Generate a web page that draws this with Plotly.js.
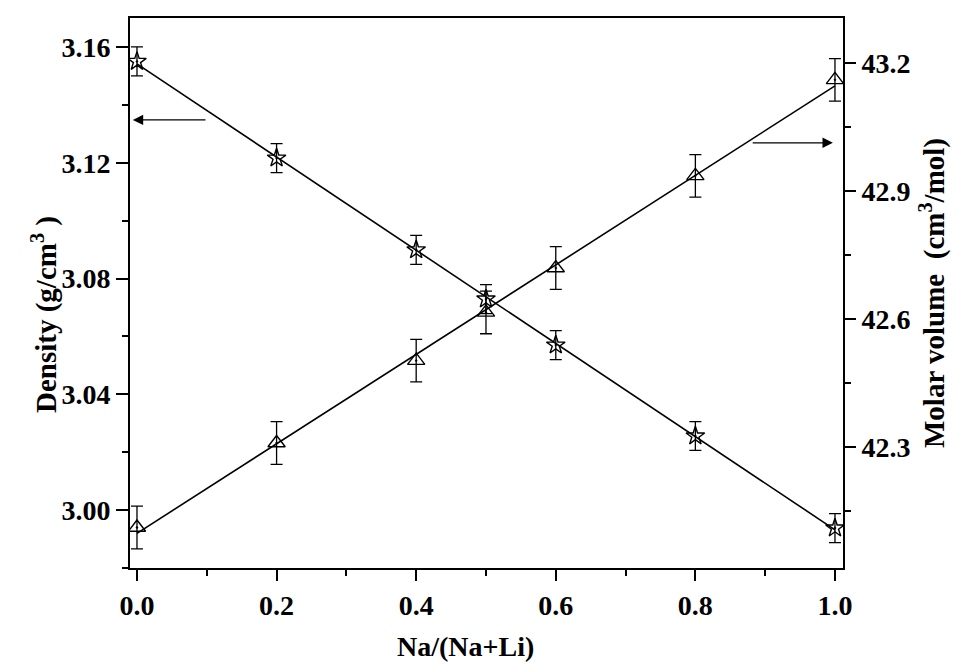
<!DOCTYPE html>
<html>
<head>
<meta charset="utf-8">
<script src="https://cdn.plot.ly/plotly-3.0.1.min.js"></script>
<style>html,body{margin:0;padding:0;background:#fff;}#chart{width:968px;height:669px;}</style>
</head>
<body>
<div id="chart"></div>
<script>
// Data
var naFraction = [0, 0.2, 0.4, 0.5, 0.6, 0.8, 1.0];
var density = [3.155, 3.1216, 3.0899, 3.0729, 3.057, 3.0256, 2.9938];
var densityErr = [0.005, 0.005, 0.005, 0.005, 0.005, 0.005, 0.005];
var molarVolume = [42.111, 42.309, 42.502, 42.615, 42.719, 42.935, 43.16];
var molarVolumeErr = [0.05, 0.05, 0.05, 0.05, 0.05, 0.05, 0.05];

var xTickVals = [0, 0.2, 0.4, 0.6, 0.8, 1.0];
var xTickText = ['0.0', '0.2', '0.4', '0.6', '0.8', '1.0'];
var yTickVals = [3.00, 3.04, 3.08, 3.12, 3.16];
var yTickText = ['3.00', '3.04', '3.08', '3.12', '3.16'];
var y2TickVals = [42.3, 42.6, 42.9, 43.2];
var y2TickText = ['42.3', '42.6', '42.9', '43.2'];

var xTitle = 'Na/(Na+Li)';
var yTitle = 'Density (g/cm<sup>3</sup> )';
var y2Title = 'Molar volume  (cm<sup>3</sup>/mol)';

function linFit(xs, ys) {
  var n = xs.length, mx = 0, my = 0;
  for (var i = 0; i < n; i++) { mx += xs[i]; my += ys[i]; }
  mx /= n; my /= n;
  var sxx = 0, sxy = 0;
  for (var j = 0; j < n; j++) { sxx += (xs[j]-mx)*(xs[j]-mx); sxy += (xs[j]-mx)*(ys[j]-my); }
  var b = sxy / sxx, a = my - b*mx;
  var x0 = Math.min.apply(null, xs), x1 = Math.max.apply(null, xs);
  return {x: [x0, x1], y: [a + b*x0, a + b*x1]};
}
var dFit = linFit(naFraction, density);
var mFit = linFit(naFraction, molarVolume);

var FONT = '"Liberation Serif", "Times New Roman", Times, serif';
var tickFont = {family: FONT, size: 28, weight: 'bold', color: '#000'};
var titleFont = {family: FONT, size: 29, weight: 'bold', color: '#000'};

var traces = [
  {x: dFit.x, y: dFit.y, mode: 'lines', line: {color: '#000', width: 1.6}, yaxis: 'y', hoverinfo: 'skip'},
  {x: mFit.x, y: mFit.y, mode: 'lines', line: {color: '#000', width: 1.6}, yaxis: 'y2', hoverinfo: 'skip'},
  {x: naFraction, y: density, mode: 'markers', yaxis: 'y',
   marker: {symbol: 'star-open-dot', size: 14, color: '#000', line: {width: 1.4, color: '#000'}},
   error_y: {type: 'data', array: densityErr, visible: true, color: '#000', thickness: 1.3, width: 6}},
  {x: naFraction, y: molarVolume, mode: 'markers', yaxis: 'y2',
   marker: {symbol: 'triangle-up-open-dot', size: 15, color: '#000', line: {width: 1.4, color: '#000'}},
   error_y: {type: 'data', array: molarVolumeErr, visible: true, color: '#000', thickness: 1.3, width: 6}}
];

var layout = {
  width: 968, height: 669,
  margin: {l: 130, r: 125, t: 18, b: 101},
  paper_bgcolor: '#fff', plot_bgcolor: '#fff',
  showlegend: false,
  font: {family: FONT, color: '#000'},
  xaxis: {
    range: [-0.01, 1.0115], showgrid: false, zeroline: false,
    showline: true, linecolor: '#000', linewidth: 2, mirror: true,
    ticks: 'outside', ticklen: 11, tickwidth: 2, tickcolor: '#000',
    tickvals: xTickVals, ticktext: xTickText, tickfont: tickFont,
    minor: {tickvals: [0.1, 0.3, 0.5, 0.7, 0.9], ticks: 'outside', ticklen: 6, tickwidth: 2, tickcolor: '#000'}
  },
  yaxis: {
    range: [2.98, 3.17], showgrid: false, zeroline: false,
    showline: true, linecolor: '#000', linewidth: 2,
    ticks: 'outside', ticklen: 12, tickwidth: 2, tickcolor: '#000',
    tickvals: yTickVals, ticktext: yTickText, tickfont: tickFont,
    minor: {tickvals: [2.98, 3.02, 3.06, 3.10, 3.14], ticks: 'outside', ticklen: 6, tickwidth: 2, tickcolor: '#000'}
  },
  yaxis2: {
    overlaying: 'y', side: 'right',
    range: [42.016, 43.305], showgrid: false, zeroline: false,
    showline: true, linecolor: '#000', linewidth: 2,
    ticks: 'outside', ticklen: 11, tickwidth: 2, tickcolor: '#000',
    tickvals: y2TickVals, ticktext: y2TickText, tickfont: tickFont,
    minor: {tickvals: [42.15, 42.45, 42.75, 43.05], ticks: 'outside', ticklen: 6, tickwidth: 2, tickcolor: '#000'},
    title: {text: y2Title, font: titleFont, standoff: 14}
  },
  annotations: [
    {xref: 'paper', yref: 'paper', x: 0.47, y: -0.1436, xanchor: 'center', yanchor: 'middle',
     text: xTitle, showarrow: false, font: {family: FONT, size: 28, weight: 'bold', color: '#000'}},
    {xref: 'paper', yref: 'paper', x: -0.1206, y: 0.46, xanchor: 'center', yanchor: 'middle', textangle: -90,
     text: yTitle, showarrow: false, font: titleFont},
    {xref: 'x', yref: 'y', axref: 'x', ayref: 'y', x: -0.006, y: 3.1348, ax: 0.1003, ay: 3.1348,
     text: '', showarrow: true, arrowhead: 2, arrowsize: 1.6, arrowwidth: 1.3, arrowcolor: '#000'},
    {xref: 'x', yref: 'y2', axref: 'x', ayref: 'y2', x: 0.997, y: 43.0125, ax: 0.88, ay: 43.0125,
     text: '', showarrow: true, arrowhead: 2, arrowsize: 1.6, arrowwidth: 1.3, arrowcolor: '#000'}
  ]
};

Plotly.newPlot('chart', traces, layout, {displayModeBar: false, staticPlot: true});
</script>
</body>
</html>
